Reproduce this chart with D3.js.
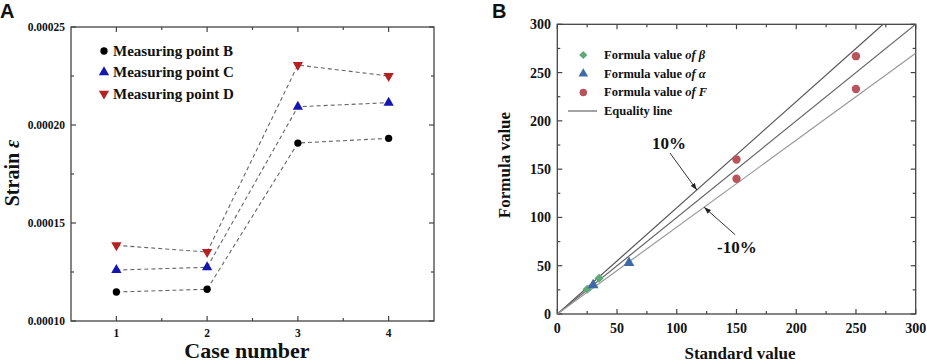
<!DOCTYPE html>
<html>
<head>
<meta charset="utf-8">
<script src="https://cdn.jsdelivr.net/npm/d3@7"></script>
<style>
  body { margin: 0; background: #fff; }
  svg text { font-family: "Liberation Serif", "Times New Roman", serif; font-weight: bold; fill: #111; }
  .panel-label { font-family: "Liberation Sans", Arial, sans-serif; }
</style>
</head>
<body>
<div id="chart"></div>
<script>
// panel A data
const cases = [1, 2, 3, 4];
const pointB = [0.0001148, 0.0001162, 0.0001908, 0.0001932];
const pointC = [0.000126, 0.0001274, 0.0002093, 0.0002114];
const pointD = [0.0001386, 0.0001352, 0.0002306, 0.000225];
const strainTicks = [0.0001, 0.00015, 0.0002, 0.00025];

// panel B data
const betaStd = [25, 35];
const betaFormula = [25.6, 37];
const alphaStd = [30, 60];
const alphaFormula = [30, 53];
const fStd = [150, 150, 250, 250];
const fFormula = [160, 140, 267, 233];
const valueTicks = [0, 50, 100, 150, 200, 250, 300];

const width = 927;
const height = 364;

const svg = d3.select("#chart")
  .append("svg")
  .attr("width", width)
  .attr("height", height);

// draws mirrored inward ticks on all four sides
function frame(g, x, y, xMajor, xMinor, yMajor, yMinor) {
  const [x0, x1] = x.range();
  const [y0, y1] = y.range();
  g.append("rect")
    .attr("x", x0).attr("y", y1)
    .attr("width", x1 - x0).attr("height", y0 - y1)
    .attr("fill", "none").attr("stroke", "#444").attr("stroke-width", 1.3);
  const tk = (vals, len) => {
    vals.forEach(v => {
      g.append("line").attr("x1", x(v)).attr("x2", x(v)).attr("y1", y0).attr("y2", y0 - len).attr("stroke", "#444").attr("stroke-width", 1.2);
      g.append("line").attr("x1", x(v)).attr("x2", x(v)).attr("y1", y1).attr("y2", y1 + len).attr("stroke", "#444").attr("stroke-width", 1.2);
    });
  };
  const tkY = (vals, len) => {
    vals.forEach(v => {
      g.append("line").attr("y1", y(v)).attr("y2", y(v)).attr("x1", x0).attr("x2", x0 + len).attr("stroke", "#444").attr("stroke-width", 1.2);
      g.append("line").attr("y1", y(v)).attr("y2", y(v)).attr("x1", x1).attr("x2", x1 - len).attr("stroke", "#444").attr("stroke-width", 1.2);
    });
  };
  tk(xMajor, 5); tk(xMinor, 3);
  tkY(yMajor, 5); tkY(yMinor, 3);
}

// ---------- Panel A ----------
const gA = svg.append("g");
const xA = d3.scaleLinear().domain([0.5, 4.5]).range([71, 434]);
const yA = d3.scaleLinear().domain([0.0001, 0.00025]).range([321, 27]);

frame(gA, xA, yA, cases, [1.5, 2.5, 3.5], strainTicks, [0.000125, 0.000175, 0.000225]);

gA.selectAll(".ytl").data(strainTicks).join("text")
  .attr("x", 65).attr("y", d => yA(d) + 4)
  .attr("text-anchor", "end").style("font-size", "11.5px")
  .text(d => d.toFixed(5));
gA.selectAll(".xtl").data(cases).join("text")
  .attr("x", d => xA(d)).attr("y", 337)
  .attr("text-anchor", "middle").style("font-size", "11.5px")
  .text(d => d);

const seriesA = [
  { name: "Measuring point B", vals: pointB, sym: d3.symbolCircle, color: "#000", rot: 0, size: 42 },
  { name: "Measuring point C", vals: pointC, sym: d3.symbolTriangle, color: "#1515b0", rot: 0, size: 46 },
  { name: "Measuring point D", vals: pointD, sym: d3.symbolTriangle, color: "#b52020", rot: 180, size: 46 }
];

const lineA = d3.line().x((d, i) => xA(cases[i])).y(d => yA(d));
seriesA.forEach(s => {
  gA.append("path").attr("d", lineA(s.vals))
    .attr("fill", "none").attr("stroke", "#666").attr("stroke-width", 1.1)
    .attr("stroke-dasharray", "4,3");
  gA.selectAll(null).data(s.vals).join("path")
    .attr("d", d3.symbol().type(s.sym).size(s.size))
    .attr("transform", (d, i) => `translate(${xA(cases[i])},${yA(d)}) rotate(${s.rot})`)
    .attr("fill", s.color);
});

seriesA.forEach((s, i) => {
  const ly = 51 + i * 21.3;
  gA.append("path")
    .attr("d", d3.symbol().type(s.sym).size(s.size))
    .attr("transform", `translate(104,${ly}) rotate(${s.rot})`)
    .attr("fill", s.color);
  gA.append("text").attr("x", 113).attr("y", ly + 5)
    .style("font-size", "15px").text(s.name);
});

gA.append("text")
  .attr("transform", `translate(19,173) rotate(-90)`)
  .attr("text-anchor", "middle").style("font-size", "20px")
  .html('Strain <tspan font-style="italic">ε</tspan>');
gA.append("text").attr("x", 247).attr("y", 358)
  .attr("text-anchor", "middle").style("font-size", "22px")
  .text("Case number");
gA.append("text").attr("class", "panel-label")
  .attr("x", 0).attr("y", 18).style("font-size", "20px").text("A");

// ---------- Panel B ----------
const gB = svg.append("g");
const xB = d3.scaleLinear().domain([0, 300]).range([557.3, 915.7]);
const yB = d3.scaleLinear().domain([0, 300]).range([314, 24.3]);

frame(gB, xB, yB, valueTicks, [25, 75, 125, 175, 225, 275], valueTicks, [25, 75, 125, 175, 225, 275]);

gB.selectAll(".ytl").data(valueTicks).join("text")
  .attr("x", 551).attr("y", d => yB(d) + 5)
  .attr("text-anchor", "end").style("font-size", "14px")
  .text(d => d);
gB.selectAll(".xtl").data(valueTicks).join("text")
  .attr("x", d => xB(d)).attr("y", 333)
  .attr("text-anchor", "middle").style("font-size", "14px")
  .text(d => d);

// reference lines clipped to the frame
gB.append("clipPath").attr("id", "clipB").append("rect")
  .attr("x", xB(0)).attr("y", yB(300))
  .attr("width", xB(300) - xB(0)).attr("height", yB(0) - yB(300));
const refLines = [
  { k: 1.1, color: "#555" },
  { k: 1.0, color: "#666" },
  { k: 0.9, color: "#999" }
];
refLines.forEach(r => {
  gB.append("line")
    .attr("clip-path", "url(#clipB)")
    .attr("x1", xB(0)).attr("y1", yB(0))
    .attr("x2", xB(300)).attr("y2", yB(300 * r.k))
    .attr("stroke", r.color).attr("stroke-width", 1.2);
});

const betaPts = betaStd.map((d, i) => [d, betaFormula[i]]);
const alphaPts = alphaStd.map((d, i) => [d, alphaFormula[i]]);
const fPts = fStd.map((d, i) => [d, fFormula[i]]);

const seriesB = [
  { name: "Formula value ", it: "of β", pts: betaPts, sym: d3.symbolSquare, rot: 45, color: "#5fa878", size: 42 },
  { name: "Formula value ", it: "of α", pts: alphaPts, sym: d3.symbolTriangle, rot: 0, color: "#3f6aa8", size: 50 },
  { name: "Formula value ", it: "of F", pts: fPts, sym: d3.symbolCircle, rot: 0, color: "#b9545c", size: 55 }
];
seriesB.forEach(s => {
  gB.selectAll(null).data(s.pts).join("path")
    .attr("d", d3.symbol().type(s.sym).size(s.size))
    .attr("transform", d => `translate(${xB(d[0])},${yB(d[1])}) rotate(${s.rot})`)
    .attr("fill", s.color);
});

seriesB.forEach((s, i) => {
  const ly = 55 + i * 18.7;
  gB.append("path")
    .attr("d", d3.symbol().type(s.sym).size(s.size * 0.8))
    .attr("transform", `translate(583.3,${ly}) rotate(${s.rot})`)
    .attr("fill", s.color);
  gB.append("text").attr("x", 604).attr("y", ly + 4)
    .style("font-size", "12.5px")
    .html(`${s.name}<tspan font-style="italic">${s.it}</tspan>`);
});
gB.append("line").attr("x1", 568).attr("x2", 597).attr("y1", 111).attr("y2", 111)
  .attr("stroke", "#666").attr("stroke-width", 1.2);
gB.append("text").attr("x", 604).attr("y", 115)
  .style("font-size", "12.5px").text("Equality line");

// arrow annotations
const defs = svg.append("defs");
defs.append("marker").attr("id", "arr")
  .attr("viewBox", "0 0 10 10").attr("refX", 10).attr("refY", 5)
  .attr("markerWidth", 7).attr("markerHeight", 7).attr("orient", "auto")
  .append("path").attr("d", "M0,1.5 L10,5 L0,8.5 Z").attr("fill", "#222");

const upX = 116.8, loX = 122.9;
gB.append("line")
  .attr("x1", xB(94.3)).attr("y1", yB(166.7))
  .attr("x2", xB(upX)).attr("y2", yB(upX * 1.1))
  .attr("stroke", "#333").attr("stroke-width", 1).attr("marker-end", "url(#arr)");
gB.append("text").attr("x", xB(93.5)).attr("y", yB(171))
  .attr("text-anchor", "middle").style("font-size", "17px").text("10%");
gB.append("line")
  .attr("x1", xB(148.9)).attr("y1", yB(82.1))
  .attr("x2", xB(loX)).attr("y2", yB(loX * 0.9))
  .attr("stroke", "#333").attr("stroke-width", 1).attr("marker-end", "url(#arr)");
gB.append("text").attr("x", xB(150.3)).attr("y", yB(63.5))
  .attr("text-anchor", "middle").style("font-size", "17px").text("-10%");

gB.append("text")
  .attr("transform", `translate(510,165) rotate(-90)`)
  .attr("text-anchor", "middle").style("font-size", "17px")
  .text("Formula value");
gB.append("text").attr("x", 740).attr("y", 359)
  .attr("text-anchor", "middle").style("font-size", "17px")
  .text("Standard value");
gB.append("text").attr("class", "panel-label")
  .attr("x", 492).attr("y", 18).style("font-size", "20px").text("B");
</script>
</body>
</html>
